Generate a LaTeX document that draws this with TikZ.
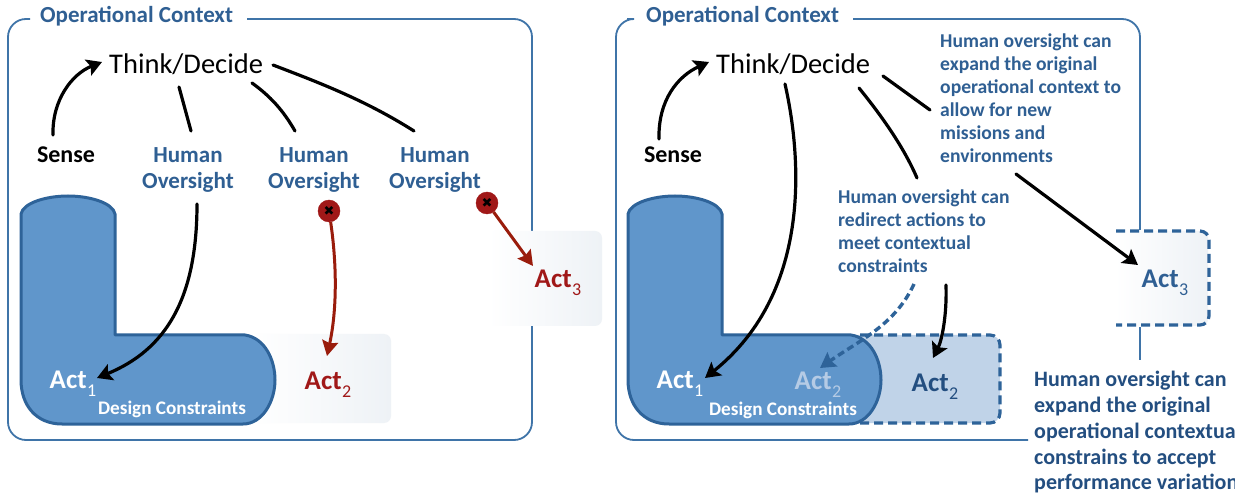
\documentclass[tikz,border=0pt]{standalone}
\usepackage{fontspec}
\setmainfont{Carlito}
\newfontfamily\symfont{DejaVu Sans}
\usetikzlibrary{arrows.meta}
\definecolor{ctxblue}{HTML}{2F5F93}
\definecolor{framecol}{HTML}{3F74A8}
\definecolor{lfill}{HTML}{6096CB}
\definecolor{ledge}{HTML}{2E6399}
\definecolor{redd}{HTML}{A01818}
\definecolor{arrowred}{HTML}{9A1C0C}
\definecolor{boxgrey}{HTML}{EEF2F6}
\definecolor{lightact}{HTML}{C0D3E8}
\definecolor{ghost}{HTML}{B5CBE5}
\definecolor{darkact}{HTML}{234E80}
\newcommand{\subn}[1]{\raisebox{-0.3em}{\fontsize{18}{18}\selectfont\mdseries\kern0.5pt #1}}
\tikzset{
  frameline/.style={draw=framecol,line width=1.8pt,rounded corners=18pt},
  lshape/.style={fill=lfill,draw=ledge,line width=3pt,line join=round},
  blk/.style={black,line width=3.2pt,line cap=round},
  blkarrow/.style={blk,-{Stealth[length=15pt,width=17pt,inset=3pt]}},
  redarrow/.style={arrowred,line width=3pt,-{Stealth[length=15pt,width=16pt,inset=2pt]}},
  dasharrow/.style={ledge,line width=3.4pt,dash pattern=on 7pt off 4pt,-{Stealth[length=15pt,width=17pt,inset=2pt]}},
  dashedge/.style={ledge,line width=3.2pt,dash pattern=on 9pt off 5pt},
  ctxtitle/.style={text=ctxblue,font=\bfseries\fontsize{23}{25}\selectfont,inner sep=0pt},
  thinklabel/.style={text=black,font=\fontsize{28.5}{30}\selectfont,inner sep=0pt},
  senselabel/.style={text=black,font=\bfseries\fontsize{24}{26}\selectfont,inner sep=0pt},
  oversight/.style={text=ctxblue,font=\bfseries\fontsize{23}{26}\selectfont,align=center,inner sep=0pt},
  actlabel/.style={font=\bfseries\fontsize{27}{29}\selectfont,inner sep=0pt},
  dclabel/.style={text=white,font=\bfseries\fontsize{19.2}{21}\selectfont,inner sep=0pt},
  note/.style={text=ctxblue,font=\bfseries\fontsize{19.6}{22.9}\selectfont,align=left,inner sep=0pt,anchor=north west},
  bignote/.style={text=darkact,font=\bfseries\fontsize{22}{25.8}\selectfont,align=left,inner sep=0pt,anchor=north west},
  xmark/.style={circle,fill=redd,draw=redd,minimum size=22pt,inner sep=0pt,text=black,font=\symfont\fontsize{13}{13}\selectfont},
}
\begin{document}
\begin{tikzpicture}[x=1pt,y=-1pt]
\clip (0,0) rectangle (1235,494);
\fill[white] (0,0) rectangle (1235,494);

% ---------- LEFT PANEL ----------
\draw[frameline] (30,19) -- (8,19) -- (8,440) -- (532,440) -- (532,19) -- (247,19);
\node[ctxtitle,anchor=west] (ctxA) at (40,16) {Operational Context};

% faded action boxes
\shade[left color=white,right color=boxgrey,rounded corners=7pt] (488,231) rectangle (602,326);
\shade[left color=white,right color=boxgrey,rounded corners=7pt] (250,334) rectangle (391,423);

% design constraints L
\draw[lshape] (21,380) -- (21,214) .. controls (23,203) and (46,196) .. (68,196)
  .. controls (90,196) and (113,203) .. (115,214) -- (115,335) -- (245,335)
  .. controls (265,338) and (275,360) .. (275,380)
  .. controls (275,402) and (262,424) .. (243,424) -- (62,424)
  .. controls (36,424) and (21,405) .. (21,380) -- cycle;

\node[thinklabel,anchor=west] (thinkA) at (109,64) {Think/Decide};
\node[senselabel] (senseA) at (66,155) {Sense};
\node[oversight] (hoA) at (188,170) {Human\\Oversight};
\node[oversight] (hoB) at (314,170) {Human\\Oversight};
\node[oversight] (hoC) at (435,170) {Human\\Oversight};
\node[actlabel,text=white,anchor=center] (actAa) at (73,384) {Act\subn{1}};
\node[dclabel] (dcA) at (172,409) {Design Constraints};
\node[actlabel,text=redd] (actAb) at (328,385) {Act\subn{2}};
\node[actlabel,text=redd] (actAc) at (558,283) {Act\subn{3}};
\node[xmark] (xB) at (329,211) {✖};
\node[xmark] (xC) at (487,203) {✖};

\coordinate (sA) at (53,135);
\coordinate (tA) at (102,62);
\draw[blkarrow] (sA) .. controls (52,100) and (72,74) .. (tA);
\coordinate (tAa) at (179,87);
\coordinate (hAa) at (191,131);
\draw[blk] (tAa) -- (hAa);
\coordinate (tAb) at (252,83);
\coordinate (hAb) at (295,131);
\draw[blk] (tAb) .. controls (270,96) and (283,110) .. (hAb);
\coordinate (tAc) at (273,65);
\coordinate (hAc) at (414,131);
\draw[blk] (tAc) .. controls (320,83) and (365,100) .. (hAc);
\coordinate (hAd) at (197,204);
\coordinate (aAa) at (97,378);
\draw[blkarrow] (hAd) .. controls (197,300) and (165,350) .. (aAa);
\coordinate (aAb) at (327,356);
\draw[redarrow] (xB) .. controls (337,265) and (337,310) .. (aAb);
\coordinate (aAc) at (533,266);
\draw[redarrow] (xC) -- (aAc);

% ---------- RIGHT PANEL ----------
\shade[left color=white,right color=boxgrey,rounded corners=7pt] (1115,231) rectangle (1208,326);
\draw[frameline] (627,19) -- (616,19) -- (616,440) -- (1028,440);
\draw[frameline] (853,19) -- (1140,19) -- (1140,230);
\draw[framecol,line width=1.8pt] (1140,327) -- (1140,360);
\node[ctxtitle,anchor=west] (ctxB) at (646,16) {Operational Context};

% extended Act2 box
\fill[lightact,rounded corners=10pt] (820,335) -- (1000,335) -- (1000,423) -- (820,423) -- cycle;
\draw[dashedge,rounded corners=10pt] (860,335) -- (1000,335) -- (1000,423) -- (860,423);
% Act3 box edges
\draw[dashedge,rounded corners=9pt] (1116,231) -- (1209,231) -- (1209,325) -- (1116,325);

\draw[lshape] (628,380) -- (628,214) .. controls (630,203) and (653,196) .. (675,196)
  .. controls (697,196) and (720,203) .. (722,214) -- (722,335) -- (851,335)
  .. controls (871,338) and (881,360) .. (881,380)
  .. controls (881,402) and (868,424) .. (849,424) -- (669,424)
  .. controls (643,424) and (628,405) .. (628,380) -- cycle;

\node[thinklabel,anchor=west] (thinkB) at (716,64) {Think/Decide};
\node[senselabel] (senseB) at (673,155) {Sense};
\node[actlabel,text=white] (actBa) at (680,384) {Act\subn{1}};
\node[actlabel,text=ghost] (actBg) at (818,385) {Act\subn{2}};
\node[dclabel] (dcB) at (783,410) {Design Constraints};
\node[actlabel,text=darkact] (actBb) at (935,387) {Act\subn{2}};
\node[actlabel,text=ctxblue] (actBc) at (1165,283) {Act\subn{3}};
\node[note] (noteA) at (940,34) {Human oversight can\\expand the original\\operational context to\\allow for new\\missions and\\environments};
\node[note] (noteB) at (838,190) {Human oversight can\\redirect actions to\\meet contextual\\constraints};
\node[bignote] (noteC) at (1034,371) {Human oversight can\\expand the original\\operational contextual\\constrains to accept\\performance variations};

\coordinate (sB) at (659,139);
\coordinate (tB) at (709,62);
\draw[blkarrow] (sB) .. controls (658,100) and (678,76) .. (tB);
\coordinate (tBa) at (785,84);
\coordinate (aBa) at (705,378);
\draw[blkarrow] (tBa) .. controls (800,150) and (815,290) .. (aBa);
\coordinate (tBb) at (859,88);
\coordinate (nBb) at (917,178);
\draw[blk] (tBb) .. controls (885,120) and (905,150) .. (nBb);
\coordinate (tBc) at (883,76);
\coordinate (nBc) at (930,110);
\draw[blk] (tBc) -- (nBc);
\coordinate (nBd) at (1016,174);
\coordinate (aBc) at (1138,265);
\draw[blkarrow] (nBd) -- (aBc);
\coordinate (nBe) at (946,285);
\coordinate (aBb) at (933,358);
\draw[blkarrow] (nBe) .. controls (947,315) and (942,340) .. (aBb);
\coordinate (nBf) at (914,284);
\coordinate (aBg) at (820,368);
\draw[dasharrow] (nBf) .. controls (895,325) and (860,340) .. (aBg);
\end{tikzpicture}
\end{document}
